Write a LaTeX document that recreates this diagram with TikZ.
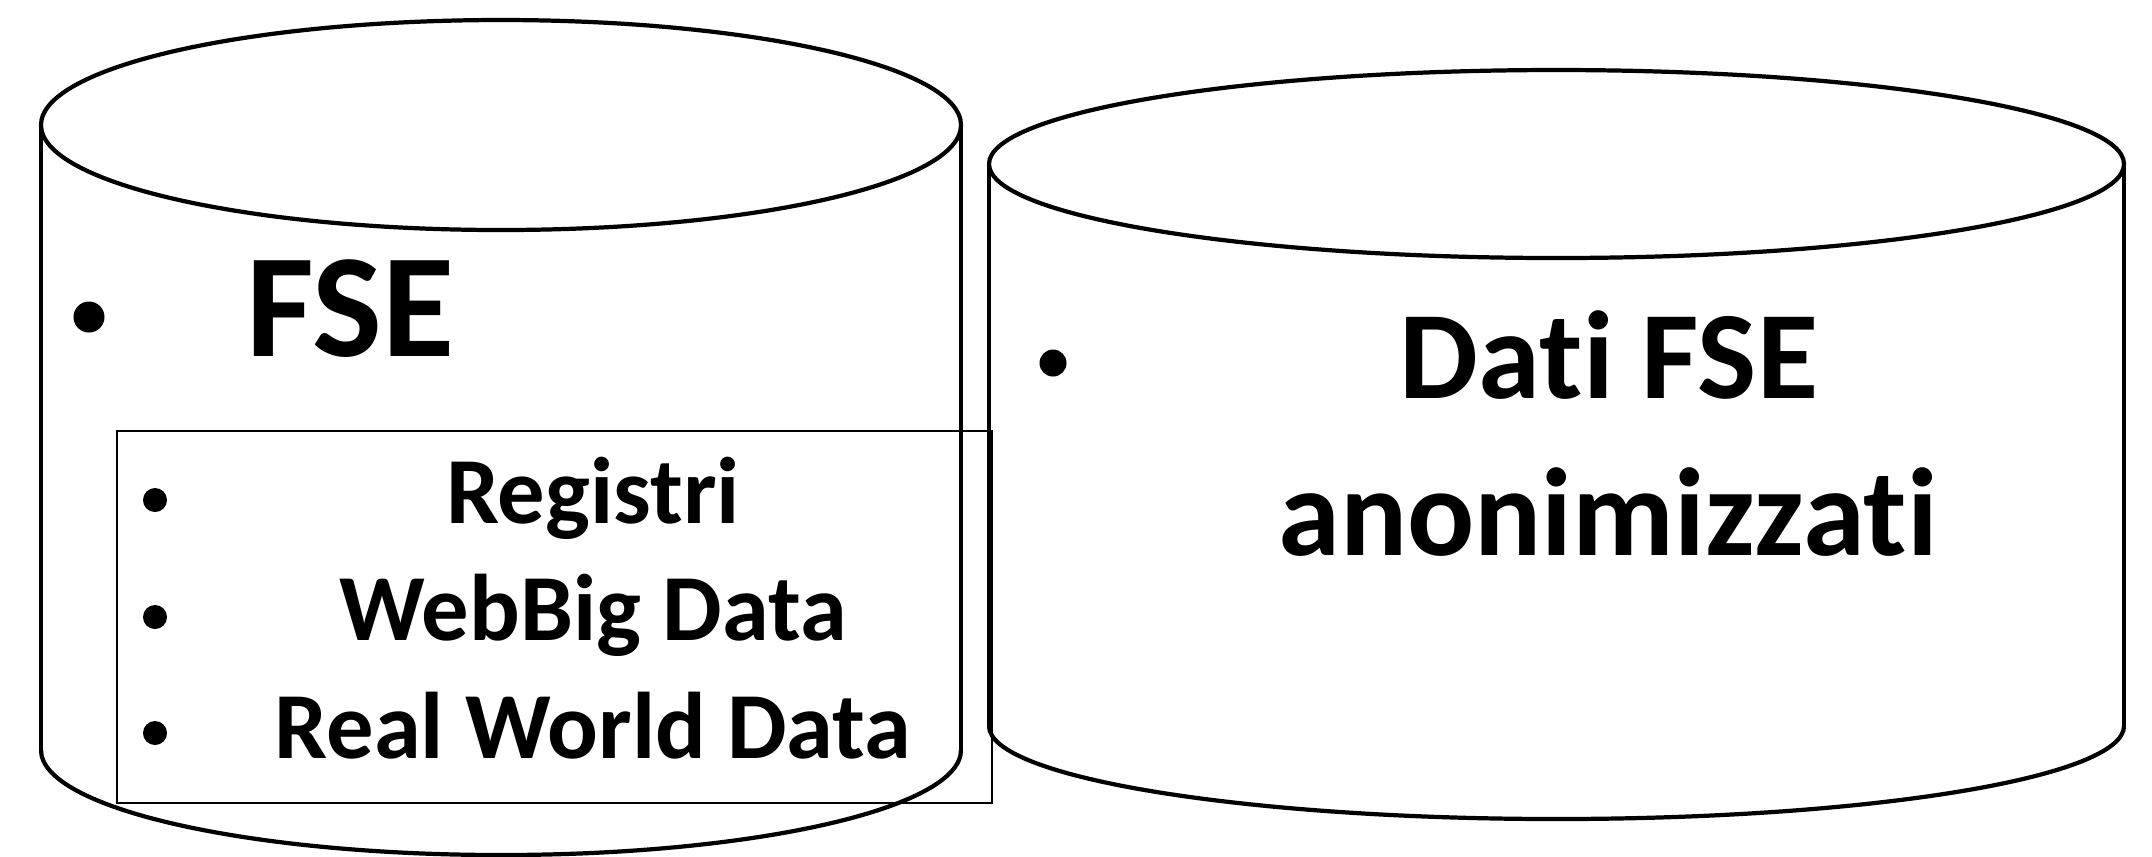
\documentclass[tikz,border=0pt]{standalone}
\usepackage{fontspec}
\setmainfont{Carlito}[Ligatures=NoCommon]
\begin{document}
\begin{tikzpicture}[x=0.01cm,y=-0.01cm,
  cyl/.style={line width=1.2pt},
  cylside/.style={line width=1pt},
  frame/.style={line width=0.75pt},
  dot/.style={circle,fill=black,inner sep=0pt,minimum size=#1},
  big/.style={font=\fontsize{42pt}{50pt}\selectfont\bfseries},
  mid/.style={font=\fontsize{35.6pt}{44pt}\selectfont\bfseries},
  small/.style={font=\fontsize{26.9pt}{32pt}\selectfont\bfseries}]
\useasboundingbox (0,0) rectangle (2152,856);
% left cylinder
\draw[cylside] (41,125) -- (41,750);
\draw[cylside] (961,125) -- (961,750);
\draw[cyl] (501,125) ellipse [x radius=460, y radius=-105];
\draw[cyl] (41,750) arc[start angle=180, end angle=360, x radius=460, y radius=-105];
% right cylinder
\draw[cylside] (989,164) -- (989,726);
\draw[cylside] (2124,164) -- (2124,726);
\draw[cyl] (1556.5,164) ellipse [x radius=567.5, y radius=-94];
\draw[cyl] (989,726) arc[start angle=180, end angle=360, x radius=567.5, y radius=-93];
% inner box
\draw[frame] (117,431) rectangle (992,803);
% texts
\node[dot=31pt*0.2845] (b1) at (89,317) {};
\node[big,anchor=base west,inner sep=0pt] (fse) at (246,356) {FSE};
\node[dot=24pt*0.2845] (b2) at (155,500) {};
\node[dot=24pt*0.2845] (b3) at (155,617) {};
\node[dot=24pt*0.2845] (b4) at (155,733) {};
\node[small,anchor=base,inner sep=0pt] (reg) at (593,523) {Registri};
\node[small,anchor=base,inner sep=0pt] (web) at (593,640) {WebBig Data};
\node[small,anchor=base,inner sep=0pt] (rwd) at (593,758) {Real World Data};
\node[dot=27pt*0.2845] (b5) at (1053,363) {};
\node[mid,anchor=base,inner sep=0pt] (dati) at (1609,398) {Dati FSE};
\node[mid,anchor=base,inner sep=0pt] (anon) at (1608,555) {anonimizzati};
\end{tikzpicture}
\end{document}
